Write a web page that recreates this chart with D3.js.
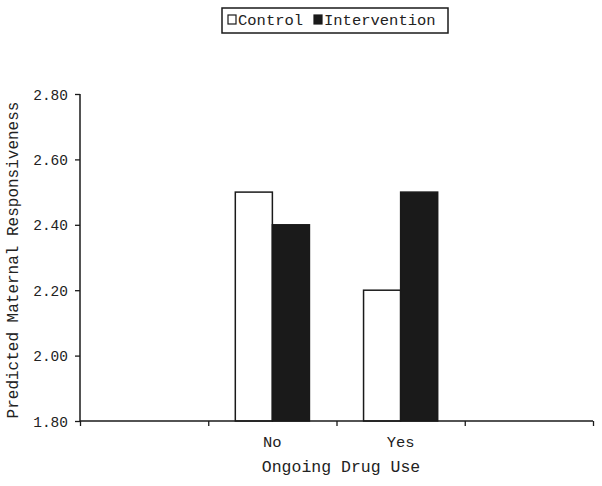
<!DOCTYPE html>
<html><head><meta charset="utf-8">
<script src="https://cdn.jsdelivr.net/npm/d3@7"></script>
<style>body{margin:0;background:#fff}svg{display:block}text{font-family:"Courier New","Liberation Mono",monospace;fill:#222}</style>
</head><body><svg id="c" width="602" height="486"></svg>
<script>
const slots = ["pad1", "No", "Yes", "pad2"];
const categories = ["No", "Yes"];
const series = ["Control", "Intervention"];
const control = [2.50, 2.20];
const intervention = [2.40, 2.50];
const yTicks = [1.80, 2.00, 2.20, 2.40, 2.60, 2.80];
const fills = {Control: "#fff", Intervention: "#1a1a1a"};

(function () {
const svg = d3.select("#c");
const mLeft = 80, mRight = 593, mTop = 94, mBottom = 421;
const y = d3.scaleLinear().domain([1.8, 2.8]).range([mBottom, mTop]);
const x = d3.scaleBand().domain(slots).range([mLeft, mRight]).padding(0);
const xInner = d3.scaleBand().domain(series).range([0, x.bandwidth()]).paddingOuter(0.73).paddingInner(0);
const edge = d3.scaleLinear().domain([0, slots.length]).range([mLeft, mRight]);

// bars
const data = categories.map((c, i) => ({cat: c, values: [{s: "Control", v: control[i]}, {s: "Intervention", v: intervention[i]}]}));
const g = svg.append("g");
data.forEach(d => {
  d.values.forEach(b => {
    g.append("rect")
      .attr("x", x(d.cat) + xInner(b.s))
      .attr("y", y(b.v))
      .attr("width", xInner.bandwidth())
      .attr("height", y(1.8) - y(b.v))
      .attr("fill", fills[b.s])
      .attr("stroke", "#1a1a1a").attr("stroke-width", 1.5);
  });
});

// y axis
const ya = svg.append("g").attr("transform", `translate(${mLeft},0)`)
  .call(d3.axisLeft(y).tickValues(yTicks).tickFormat(d3.format(".2f")).tickSize(5).tickPadding(7));
ya.select(".domain").attr("stroke", "#1a1a1a").attr("stroke-width", 1.5).attr("d", `M0,${mTop}V${mBottom}`);
ya.selectAll(".tick line").attr("stroke", "#1a1a1a").attr("stroke-width", 1.3);
ya.selectAll(".tick text").style("font-size", "14.5px").attr("fill", "#222").attr("dy", "0.35em");

// x axis
const xa = svg.append("g").attr("transform", `translate(0,${mBottom})`)
  .call(d3.axisBottom(edge).tickValues(d3.range(slots.length + 1)).tickFormat("").tickSize(5));
xa.select(".domain").attr("stroke", "#1a1a1a").attr("stroke-width", 1.5).attr("d", `M${mLeft},0H${mRight}`);
xa.selectAll(".tick line").attr("stroke", "#1a1a1a").attr("stroke-width", 1.3);
svg.append("g").selectAll("text").data(categories).join("text")
  .attr("x", d => x(d) + x.bandwidth() / 2).attr("y", 447)
  .attr("text-anchor", "middle").style("font-size", "15.5px").text(d => d);

// titles
svg.append("text").attr("x", 341).attr("y", 472).attr("text-anchor", "middle")
  .style("font-size", "16.5px").text("Ongoing Drug Use");
svg.append("text").attr("transform", "translate(18,260) rotate(-90)").attr("text-anchor", "middle")
  .style("font-size", "16px").text("Predicted Maternal Responsiveness");

// legend
const lg = svg.append("g");
lg.append("rect").attr("x", 222).attr("y", 8).attr("width", 226).attr("height", 25)
  .attr("fill", "#fff").attr("stroke", "#1a1a1a").attr("stroke-width", 1.5);
const lx = [228, 314];
series.forEach((s, i) => {
  lg.append("rect").attr("x", lx[i]).attr("y", 15).attr("width", 8).attr("height", 9)
    .attr("fill", fills[s]).attr("stroke", "#1a1a1a").attr("stroke-width", 1.2);
  lg.append("text").attr("x", lx[i] + 10).attr("y", 25).style("font-size", "15.5px").text(s);
});
})();
</script></body></html>
